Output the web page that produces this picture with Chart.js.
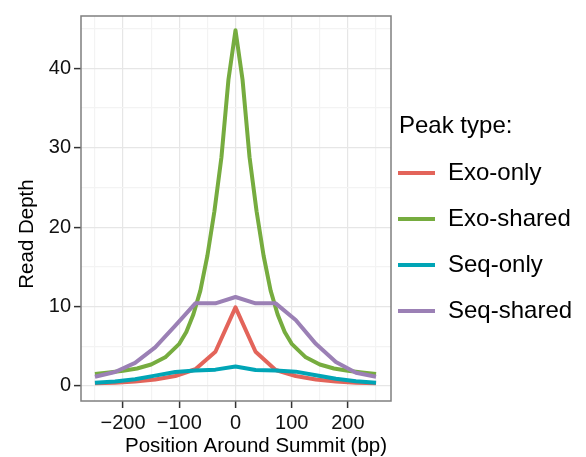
<!DOCTYPE html>
<html>
<head>
<meta charset="utf-8">
<script src="https://cdn.jsdelivr.net/npm/chart.js@4/dist/chart.umd.min.js"></script>
<style>
  html, body { margin: 0; padding: 0; background: #fff; }
  #wrap { width: 586px; height: 457px; }
</style>
</head>
<body>
<div id="wrap"><canvas id="profileChart"></canvas></div>
<script>
// Data
const seriesNames = ["Exo-only", "Exo-shared", "Seq-only", "Seq-shared"];
const seriesColors = ["#E3645A", "#76AC3F", "#00A5B6", "#9B80B5"];

// binned positions (bp) used by Exo-only, Seq-only, Seq-shared
const positions = [-250, -214.3, -178.6, -142.9, -107.1, -71.4, -35.7, 0, 35.7, 71.4, 107.1, 142.9, 178.6, 214.3, 250];
const exoOnly = [0.35, 0.4, 0.55, 0.8, 1.25, 2.1, 4.3, 9.9, 4.3, 2.0, 1.25, 0.8, 0.55, 0.4, 0.35];
const seqOnly = [0.4, 0.55, 0.85, 1.3, 1.75, 1.95, 2.05, 2.45, 2.0, 1.95, 1.8, 1.35, 0.9, 0.6, 0.4];
const seqShared = [1.15, 1.75, 2.9, 4.85, 7.6, 10.4, 10.4, 11.2, 10.4, 10.4, 8.3, 5.3, 3.0, 1.65, 1.15];

// Exo-shared is drawn at a finer resolution
const exoSharedPositions = [-250, -225, -200, -175, -150, -125, -100, -87.5, -75, -62.5, -50, -37.5, -25, -12.5, 0,
  12.5, 25, 37.5, 50, 62.5, 75, 87.5, 100, 125, 150, 175, 200, 225, 250];
const exoShared = [1.5, 1.7, 1.9, 2.2, 2.7, 3.6, 5.3, 6.8, 9.0, 12.0, 16.4, 22.0, 28.8, 38.6, 44.8,
  38.6, 28.8, 22.0, 16.4, 12.0, 9.0, 6.8, 5.3, 3.6, 2.7, 2.2, 1.9, 1.7, 1.5];

// axis ticks: every value gets a grid line, only the labelled ones get a label
const xTicks = [-250, -200, -150, -100, -50, 0, 50, 100, 150, 200, 250];
const xLabels = [-200, -100, 0, 100, 200];
const yTicks = [0, 5, 10, 15, 20, 25, 30, 35, 40, 45];
const yLabels = [0, 10, 20, 30, 40];

const FONT = "'Liberation Sans', Arial, Helvetica, sans-serif";

function toPoints(xs, ys) {
  return xs.map((x, i) => ({ x: x, y: ys[i] }));
}

function makeDataset(i, xs, ys) {
  return {
    label: seriesNames[i],
    data: toPoints(xs, ys),
    borderColor: seriesColors[i],
    backgroundColor: seriesColors[i],
    borderWidth: 4,
    pointRadius: 0,
    tension: 0,
    fill: false,
    order: 4 - i,
    borderJoinStyle: "round",
  };
}

// Panel border, axis titles and the legend
const decorPlugin = {
  id: "decor",
  afterDatasetsDraw(chart) {
    const { ctx, chartArea: a } = chart;
    ctx.save();
    ctx.strokeStyle = "#7f7f7f";
    ctx.lineWidth = 1.5;
    ctx.strokeRect(a.left, a.top, a.right - a.left, a.bottom - a.top);

    ctx.fillStyle = "#000";
    ctx.font = "20.5px " + FONT;
    ctx.textAlign = "center";
    ctx.textBaseline = "alphabetic";
    ctx.fillText("Position Around Summit (bp)", 256, 452);

    ctx.save();
    ctx.translate(33, 234);
    ctx.rotate(-Math.PI / 2);
    ctx.fillText("Read Depth", 0, 0);
    ctx.restore();

    // legend
    ctx.textAlign = "left";
    ctx.font = "24px " + FONT;
    ctx.fillText("Peak type:", 399, 133);
    seriesNames.forEach((name, i) => {
      const y = 173 + i * 46;
      ctx.strokeStyle = seriesColors[i];
      ctx.lineWidth = 4;
      ctx.beginPath();
      ctx.moveTo(398, y);
      ctx.lineTo(435, y);
      ctx.stroke();
      ctx.fillText(name, 448, y + 7);
    });
    ctx.restore();
  },
};

function gridColor(labels) {
  return (c) => (c.tick && labels.includes(c.tick.value) ? "#E6E6E6" : "#F3F3F3");
}
function tickColor(labels) {
  return (c) => (c.tick && labels.includes(c.tick.value) ? "#333333" : "rgba(0,0,0,0)");
}

new Chart(document.getElementById("profileChart"), {
  type: "line",
  data: {
    datasets: [
      makeDataset(0, positions, exoOnly),
      makeDataset(1, exoSharedPositions, exoShared),
      makeDataset(2, positions, seqOnly),
      makeDataset(3, positions, seqShared),
    ],
  },
  options: {
    responsive: true,
    maintainAspectRatio: false,
    animation: false,
    layout: { padding: { top: 16, right: 195, left: 0, bottom: 0 } },
    plugins: { legend: { display: false }, tooltip: { enabled: false } },
    scales: {
      x: {
        type: "linear",
        min: -274.8,
        max: 276.6,
        afterBuildTicks(scale) { scale.ticks = xTicks.map((v) => ({ value: v })); },
        afterFit(scale) { scale.height = 56; },
        border: { display: false },
        grid: { color: gridColor(xLabels), tickColor: tickColor(xLabels), lineWidth: 1.2, tickLength: 7, tickWidth: 1.5 },
        ticks: {
          autoSkip: false,
          maxRotation: 0,
          padding: 3,
          color: "#111",
          font: { family: FONT, size: 20 },
          callback: (v) => (xLabels.includes(v) ? String(v).replace("-", "\u2212") : ""),
        },
      },
      y: {
        type: "linear",
        min: -1.9,
        max: 46.6,
        afterBuildTicks(scale) { scale.ticks = yTicks.map((v) => ({ value: v })); },
        afterFit(scale) { scale.width = 81; },
        border: { display: false },
        grid: { color: gridColor(yLabels), tickColor: tickColor(yLabels), lineWidth: 1.2, tickLength: 7, tickWidth: 1.5 },
        ticks: {
          autoSkip: false,
          padding: 3,
          color: "#111",
          font: { family: FONT, size: 20 },
          callback: (v) => (yLabels.includes(v) ? String(v) : ""),
        },
      },
    },
  },
  plugins: [decorPlugin],
});
</script>
</body>
</html>
